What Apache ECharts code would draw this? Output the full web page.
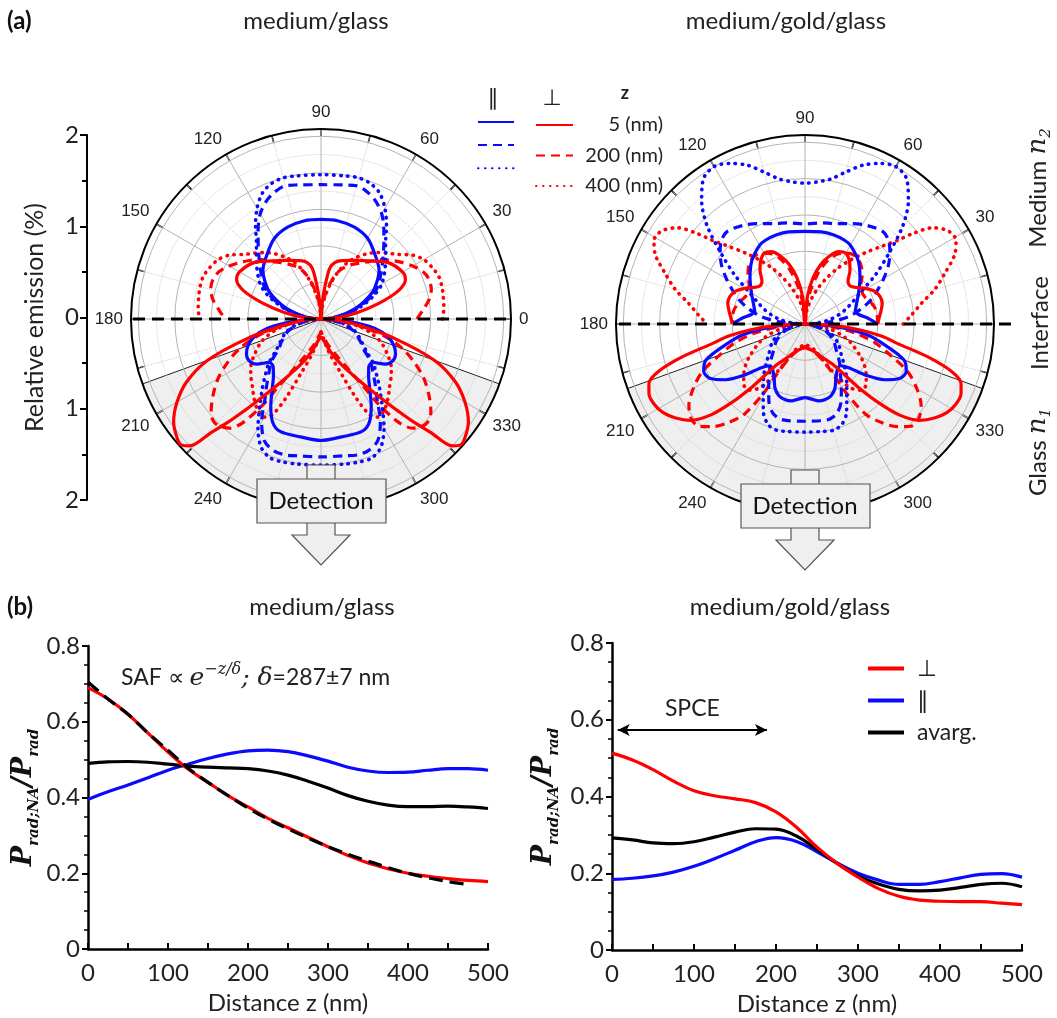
<!DOCTYPE html>
<html><head><meta charset="utf-8">
<script src="https://cdn.jsdelivr.net/npm/echarts@6/dist/echarts.min.js"></script>
<style>html,body{margin:0;padding:0;background:#fff}#c{width:1057px;height:1018px}</style>
</head><body><div id="c"></div><script>
// ---------- (a) polar patterns: [angle (deg), relative emission] ----------
// medium/glass, upper half (angle above interface 0..90), lower half (depression angle 0..90)
const gB5u   = [[0,0],[5,0.12],[10,0.22],[15,0.34],[20,0.46],[25,0.58],[30,0.68],[40,0.83],[50,0.92],[60,1.02],[70,1.07],[80,1.09],[90,1.09]];
const gB200u = [[0,0],[5,0.1],[10,0.23],[15,0.37],[20,0.5],[25,0.62],[30,0.72],[40,0.87],[45,0.96],[50,1.07],[55,1.2],[60,1.33],[65,1.42],[70,1.48],[75,1.51],[80,1.49],[90,1.47]];
const gB400u = [[0,0],[5,0.11],[10,0.24],[15,0.39],[20,0.53],[25,0.66],[30,0.77],[40,0.92],[45,1.0],[50,1.1],[55,1.25],[60,1.4],[65,1.52],[70,1.58],[75,1.6],[80,1.59],[90,1.58]];
const gR5u   = [[0,0],[5,0.18],[10,0.4],[15,0.65],[20,0.9],[25,1.02],[30,1.03],[40,0.96],[50,0.83],[60,0.74],[70,0.68],[76,0.64],[80,0.57],[82,0.45],[84,0.3],[86,0.15],[90,0]];
const gR200u = [[0,1.05],[5,1.12],[10,1.2],[15,1.25],[20,1.26],[25,1.23],[30,1.16],[35,1.08],[40,1.0],[45,0.92],[50,0.82],[55,0.75],[60,0.69],[65,0.63],[70,0.55],[75,0.42],[80,0.28],[85,0.14],[90,0]];
const gR400u = [[0,1.33],[5,1.35],[10,1.36],[15,1.37],[20,1.37],[25,1.34],[30,1.3],[35,1.22],[40,1.1],[45,1.02],[50,0.95],[55,0.87],[60,0.78],[65,0.68],[70,0.55],[75,0.4],[80,0.25],[85,0.12],[90,0]];
const gB5d   = [[0,0],[5,0.3],[10,0.6],[15,0.76],[20,0.85],[25,0.9],[30,0.91],[35,0.86],[40,0.74],[45,0.74],[50,0.81],[55,0.93],[60,1.1],[65,1.25],[70,1.31],[80,1.31],[90,1.33]];
const gB200d = [[0,0],[10,0.2],[20,0.38],[30,0.5],[35,0.56],[40,0.7],[45,0.8],[50,0.92],[55,1.07],[60,1.3],[65,1.47],[70,1.53],[75,1.54],[80,1.52],[90,1.51]];
const gB400d = [[0,0],[10,0.22],[20,0.4],[30,0.52],[35,0.6],[40,0.74],[45,0.86],[50,1.0],[55,1.17],[60,1.38],[65,1.55],[70,1.62],[75,1.62],[80,1.61],[90,1.6]];
const gR5d   = [[0,0],[5,0.2],[10,0.45],[15,0.85],[20,1.32],[25,1.62],[30,1.82],[35,1.97],[40,2.05],[42,2.06],[44,2.0],[46,1.72],[48,1.52],[50,1.32],[52,1.15],[55,0.95],[60,0.72],[65,0.57],[70,0.45],[75,0.35],[80,0.27],[85,0.22],[90,0.2]];
const gR200d = [[0,0],[5,0.15],[10,0.4],[15,0.72],[20,0.95],[25,1.13],[30,1.3],[35,1.44],[40,1.57],[43,1.62],[46,1.62],[50,1.56],[53,1.42],[56,1.12],[58,0.85],[62,0.6],[66,0.46],[70,0.37],[75,0.29],[80,0.22],[85,0.17],[90,0.15]];
const gR400d = [[0,0],[10,0.4],[20,0.68],[30,0.86],[35,0.94],[40,1.0],[45,1.06],[50,1.14],[55,1.21],[60,1.24],[63,1.18],[66,0.95],[70,0.62],[75,0.42],[80,0.28],[85,0.18],[90,0.14]];
// medium/gold/glass
const uB5u   = [[0,0.8],[5,0.7],[10,0.6],[14,0.57],[20,0.6],[30,0.68],[40,0.79],[50,0.91],[60,1.0],[65,1.02],[72,1.03],[80,1.03],[90,1.02]];
const uB200u = [[0,0.05],[5,0.3],[10,0.5],[15,0.64],[20,0.77],[25,0.88],[30,1.0],[35,1.12],[40,1.22],[45,1.3],[50,1.33],[58,1.28],[65,1.22],[74,1.15],[80,1.13],[90,1.1]];
const uB400u = [[0,0],[5,0.15],[10,0.28],[15,0.38],[20,0.48],[25,0.58],[30,0.72],[35,0.95],[40,1.2],[45,1.52],[50,1.77],[55,1.95],[60,2.0],[65,1.95],[70,1.86],[75,1.73],[80,1.62],[85,1.57],[90,1.55]];
const uR5u   = [[0,0.8],[5,0.82],[10,0.85],[15,0.88],[20,0.88],[25,0.85],[30,0.78],[35,0.7],[40,0.65],[45,0.67],[50,0.77],[55,0.85],[60,0.9],[65,0.88],[70,0.8],[75,0.68],[80,0.52],[85,0.3],[90,0]];
const uR200u = [[0,0.8],[5,0.8],[10,0.8],[15,0.78],[20,0.75],[25,0.72],[30,0.72],[35,0.75],[40,0.82],[45,0.88],[50,0.92],[55,0.93],[60,0.9],[65,0.85],[70,0.75],[75,0.6],[80,0.4],[85,0.2],[90,0]];
const uR400u = [[0,1.08],[5,1.18],[10,1.3],[15,1.48],[20,1.64],[25,1.82],[29,1.9],[33,1.88],[37,1.76],[40,1.55],[42,1.38],[45,1.22],[50,1.02],[55,0.85],[60,0.7],[65,0.55],[70,0.42],[75,0.3],[80,0.2],[85,0.1],[90,0]];
const uB5d   = [[0,0.05],[5,0.35],[10,0.7],[15,0.92],[20,1.16],[25,1.23],[30,1.2],[35,1.07],[40,0.88],[45,0.68],[50,0.6],[55,0.62],[60,0.68],[65,0.78],[70,0.84],[75,0.86],[80,0.86],[85,0.83],[90,0.81]];
const uB200d = [[0,0],[10,0.12],[20,0.25],[30,0.36],[40,0.45],[45,0.52],[50,0.6],[55,0.68],[60,0.8],[65,0.94],[70,1.04],[75,1.08],[80,1.08],[90,1.07]];
const uB400d = [[0,0],[10,0.15],[20,0.3],[30,0.42],[40,0.52],[45,0.6],[50,0.7],[55,0.8],[60,0.92],[65,1.08],[70,1.18],[75,1.21],[80,1.2],[90,1.19]];
const uR5d   = [[0,0],[3,0.3],[6,0.6],[9,0.85],[12,1.05],[15,1.4],[18,1.7],[21,1.84],[24,1.88],[28,1.88],[32,1.84],[36,1.76],[40,1.65],[44,1.44],[47,1.18],[50,0.9],[52,0.72],[55,0.55],[60,0.45],[65,0.38],[70,0.33],[75,0.3],[80,0.28],[85,0.26],[90,0.25]];
const uR200d = [[0,0],[5,0.25],[10,0.55],[15,0.8],[20,1.0],[25,1.25],[30,1.42],[35,1.56],[40,1.63],[44,1.62],[48,1.52],[52,1.38],[56,1.2],[59,0.9],[61,0.6],[65,0.42],[70,0.34],[75,0.3],[80,0.28],[85,0.27],[90,0.26]];
const uR400d = [[0,0],[10,0.25],[20,0.5],[30,0.7],[35,0.8],[40,0.88],[45,0.95],[50,0.95],[55,0.85],[60,0.6],[65,0.4],[70,0.3],[80,0.25],[90,0.22]];

// ---------- (b) collection efficiency vs distance ----------
const distZ     = [0,25,50,75,100,125,150,175,200,225,250,275,300,325,350,375,400,425,450,475,500];
const glassPerp = [0.69,0.66,0.62,0.57,0.52,0.475,0.44,0.405,0.375,0.345,0.32,0.295,0.27,0.247,0.227,0.212,0.2,0.192,0.186,0.181,0.178];
const glassPar  = [0.395,0.415,0.433,0.452,0.472,0.488,0.503,0.515,0.523,0.525,0.521,0.51,0.496,0.48,0.47,0.466,0.467,0.472,0.476,0.476,0.472];
const glassAvg  = [0.49,0.494,0.495,0.493,0.488,0.483,0.48,0.478,0.476,0.47,0.459,0.443,0.425,0.405,0.39,0.38,0.376,0.376,0.377,0.375,0.371];
const fitZ      = [0,25,50,75,100,125,150,175,200,225,250,275,300,325,350,375,400,425,450,470];
const glassFit  = [0.705,0.66,0.62,0.57,0.525,0.478,0.44,0.405,0.372,0.343,0.317,0.293,0.27,0.25,0.232,0.215,0.2,0.188,0.178,0.172];
const goldPerp  = [0.513,0.495,0.47,0.44,0.415,0.402,0.394,0.384,0.36,0.32,0.268,0.225,0.19,0.16,0.14,0.13,0.127,0.126,0.126,0.122,0.118];
const goldPar   = [0.184,0.187,0.193,0.203,0.218,0.238,0.26,0.282,0.293,0.283,0.256,0.226,0.2,0.182,0.171,0.171,0.178,0.188,0.197,0.199,0.19];
const goldAvg   = [0.292,0.287,0.279,0.277,0.282,0.294,0.307,0.316,0.315,0.297,0.262,0.225,0.193,0.172,0.158,0.154,0.156,0.163,0.171,0.174,0.165];
const angleTicks = [0,30,60,90,120,150,180,210,240,270,300,330];

// ---------- layout constants ----------
const P = [{cx:321, cy:319, r:190}, {cx:805, cy:324, r:189}];
const RMAX = 2.08;
const RED = '#ff0000', BLUE = '#0a0aff';
const CAL = 'Lato', ARI = 'Liberation Sans', SER = 'DejaVu Serif';

function upper(arr){ const o=[]; arr.forEach(([a,r])=>o.push([r,a])); for(let i=arr.length-2;i>=0;i--){const [a,r]=arr[i]; o.push([r,180-a]);} return o; }
function lower(arr){ const o=[]; arr.forEach(([d,r])=>o.push([r,180+d])); for(let i=arr.length-2;i>=0;i--){const [d,r]=arr[i]; o.push([r,360-d]);} return o; }
const styles = {
  solid: {width:3.2, type:'solid'},
  dashed:{width:3.2, type:[9,6]},
  dotted:{width:3.6, type:[0.5,6.5], cap:'round'}
};
function pser(name, up, dn, pi, color, st){
  const mk = d => ({type:'line', name, coordinateSystem:'polar', polarIndex:pi, data:d, symbol:'none', showSymbol:false, smooth:0.3,
     lineStyle:Object.assign({color}, styles[st]), itemStyle:{color}, z:3, silent:true});
  return [mk(upper(up)), mk(lower(dn))];
}
const series = [].concat(
  pser('r400', gR400u, gR400d, 0, RED, 'dotted'), pser('r200', gR200u, gR200d, 0, RED, 'dashed'),
  pser('b400', gB400u, gB400d, 0, BLUE, 'dotted'), pser('b200', gB200u, gB200d, 0, BLUE, 'dashed'),
  pser('b5', gB5u, gB5d, 0, BLUE, 'solid'), pser('r5', gR5u, gR5d, 0, RED, 'solid'),
  pser('r400', uR400u, uR400d, 1, RED, 'dotted'), pser('r200', uR200u, uR200d, 1, RED, 'dashed'),
  pser('b400', uB400u, uB400d, 1, BLUE, 'dotted'), pser('b200', uB200u, uB200d, 1, BLUE, 'dashed'),
  pser('b5', uB5u, uB5d, 1, BLUE, 'solid'), pser('r5', uR5u, uR5d, 1, RED, 'solid')
);
const zip = (xs, ys) => ys.map((v,i)=>[xs[i], v]);
function lser(name, xi, xs, ys, color, dash){
  return {type:'line', name, xAxisIndex:xi, yAxisIndex:xi, data:zip(xs,ys), symbol:'none', smooth:0.4,
    lineStyle:{color, width:3.2, type: dash ? [14,7] : 'solid'}, itemStyle:{color}, z: dash?5:3};
}
series.push(lser('∥', 1, distZ, glassPar, BLUE), lser('avarg.', 1, distZ, glassAvg, '#000'),
            lser('⊥', 1, distZ, glassPerp, RED), lser('fit', 1, fitZ, glassFit, '#000', true));
const goldBlack = lser('avarg.', 2, distZ, goldAvg, '#000');
goldBlack.markLine = {silent:true, symbol:['arrow','arrow'], symbolSize:[9,12], animation:false,
  lineStyle:{color:'#000', width:2, type:'solid'},
  label:{show:true, position:'middle', formatter:'SPCE', fontSize:23, fontFamily:CAL, color:'#222', distance:10},
  data:[[{coord:[7,0.573]},{coord:[189,0.573]}]]};
series.push(lser('∥', 2, distZ, goldPar, BLUE), goldBlack, lser('⊥', 2, distZ, goldPerp, RED));

function angleAxis(i){
  return {polarIndex:i, type:'value', min:0, max:360, interval:30, startAngle:0, clockwise:false,
    axisLine:{lineStyle:{color:'#000', width:2}},
    axisTick:{inside:true, length:7, lineStyle:{color:'#000', width:1.5}},
    minorTick:{show:true, splitNumber:2, length:7, lineStyle:{color:'#000', width:1.5}},
    axisLabel:{fontSize:17, color:'#222', fontFamily:ARI, margin:8,
      formatter: v => (angleTicks.indexOf(v) < 0 || (i===1 && v===0)) ? '' : String(v)},
    splitLine:{show:true, lineStyle:{color:'#b4b4b4', width:1}},
    minorSplitLine:{show:true, lineStyle:{color:'#cfcfcf', width:1, type:'dotted'}}};
}
function radiusAxis(i){
  return {polarIndex:i, type:'value', min:0, max:RMAX, interval:0.4,
    axisLine:{show:false}, axisTick:{show:false}, axisLabel:{show:false},
    minorTick:{show:false, splitNumber:2},
    splitLine:{show:true, lineStyle:{color:'#b4b4b4', width:1}},
    minorSplitLine:{show:true, lineStyle:{color:'#cfcfcf', width:1, type:'dotted'}}};
}
const numAxisLabel = {fontSize:24, color:'#222', fontFamily:CAL};
const yTitle = {
  P:{fontFamily:SER, fontStyle:'italic', fontWeight:'bold', fontSize:27, color:'#111', verticalAlign:'bottom', padding:[0,0,5,0]},
  s:{fontFamily:SER, fontStyle:'italic', fontWeight:'bold', fontSize:15, color:'#111', verticalAlign:'bottom'}
};

// ---------- graphics (decorations, labels) ----------
const G = [];
P.forEach(p => {
  const d = Math.PI/180;
  G.push({type:'sector', z:-1, silent:true, shape:{cx:p.cx, cy:p.cy, r:p.r, r0:0, startAngle:20*d, endAngle:160*d, clockwise:true},
          style:{fill:'#efefef', stroke:'#222', lineWidth:1}});
  G.push({type:'polygon', z:60, silent:true, shape:{points:[[p.cx-14,p.cy+146],[p.cx+14,p.cy+146],[p.cx+14,p.cy+216],[p.cx+29,p.cy+216],[p.cx,p.cy+246],[p.cx-29,p.cy+216],[p.cx-14,p.cy+216]]},
          style:{fill:'#efefef', stroke:'#555', lineWidth:1.2}});
  G.push({type:'rect', z:61, silent:true, shape:{x:p.cx-64, y:p.cy+160, width:129, height:44}, style:{fill:'#efefef', stroke:'#555', lineWidth:1.2}});
  G.push({type:'text', z:62, silent:true, x:p.cx, y:p.cy+182, style:{text:'Detection', fontSize:24, fontFamily:CAL, fill:'#111', align:'center', verticalAlign:'middle'}});
});
G.push({type:'line', z:50, silent:true, shape:{x1:P[0].cx-188, y1:P[0].cy, x2:P[0].cx+192, y2:P[0].cy}, style:{stroke:'#000', lineWidth:3, lineDash:[12,7]}});
G.push({type:'line', z:50, silent:true, shape:{x1:P[1].cx-186, y1:P[1].cy, x2:1018, y2:P[1].cy}, style:{stroke:'#000', lineWidth:3, lineDash:[12,7]}});
const T = (x,y,text,o) => G.push(Object.assign({type:'text', z:70, silent:true, x, y, style:Object.assign({text, fontSize:24, fontFamily:CAL, fill:'#222', align:'center', verticalAlign:'middle'}, o||{})}));
T(7,21,'(a)',{align:'left', fontWeight:'bold', fill:'#111', fontSize:24});
T(316,21,'medium/glass'); T(786,21,'medium/gold/glass');
T(7,607,'(b)',{align:'left', fontWeight:'bold', fill:'#111', fontSize:24});
T(322,607,'medium/glass'); T(790,607,'medium/gold/glass');
T(493,99,'∥',{fontSize:22, fontFamily:'DejaVu Sans'}); T(552,99,'⊥',{fontSize:22, fontFamily:'DejaVu Sans'});
T(625,93,'z',{fontSize:18, fontWeight:'bold'});
const sideRich = {a:{fontSize:24, fontFamily:CAL, fill:'#222'}, n:{fontSize:26, fontFamily:SER, fontStyle:'italic', fill:'#222'}, s:{fontSize:15, fontFamily:SER, fontStyle:'italic', fill:'#222', verticalAlign:'bottom', lineHeight:32}};
G.push({type:'text', z:70, silent:true, x:1038, y:188, rotation:Math.PI/2, style:{text:'{a|Medium }{n|n}{s|2}', rich:sideRich, align:'center', verticalAlign:'middle'}});
G.push({type:'text', z:70, silent:true, x:1040, y:323, rotation:Math.PI/2, style:{text:'Interface', fontSize:24, fontFamily:CAL, fill:'#222', align:'center', verticalAlign:'middle'}});
G.push({type:'text', z:70, silent:true, x:1038, y:452, rotation:Math.PI/2, style:{text:'{a|Glass }{n|n}{s|1}', rich:sideRich, align:'center', verticalAlign:'middle'}});
G.push({type:'text', z:70, silent:true, x:121, y:678, style:{
  text:'{a|SAF ∝ }{e|e}{p|−z/δ}{e|; δ}{a|=287±7 nm}', align:'left', verticalAlign:'middle',
  rich:{a:{fontSize:23, fontFamily:CAL, fill:'#222', lineHeight:32}, e:{fontSize:25, fontFamily:SER, fontStyle:'italic', fill:'#222', lineHeight:32},
        p:{fontSize:16, fontFamily:SER, fontStyle:'italic', fill:'#222', verticalAlign:'top', lineHeight:32}}}});

const option = {
  animation:false, backgroundColor:'#fff',
  polar: P.map(p => ({center:[p.cx,p.cy], radius:p.r})),
  angleAxis:[angleAxis(0), angleAxis(1)],
  radiusAxis:[radiusAxis(0), radiusAxis(1)],
  grid:[{left:87, top:135, width:1, height:365}, {left:88, top:646, width:400, height:303}, {left:612, top:643, width:410, height:307}],
  xAxis:[
    {gridIndex:0, type:'value', show:false},
    {gridIndex:1, type:'value', min:0, max:500, interval:100, axisLine:{lineStyle:{color:'#000', width:2.5}},
     axisTick:{inside:true, length:6, lineStyle:{color:'#000', width:2}}, minorTick:{show:true, splitNumber:2, length:6, lineStyle:{color:'#000', width:2}},
     splitLine:{show:false}, axisLabel:Object.assign({margin:12}, numAxisLabel),
     name:'Distance z (nm)', nameLocation:'middle', nameGap:42, nameTextStyle:{fontSize:24, fontFamily:CAL, color:'#222'}},
    {gridIndex:2, type:'value', min:0, max:500, interval:100, axisLine:{lineStyle:{color:'#000', width:2.5}},
     axisTick:{inside:true, length:6, lineStyle:{color:'#000', width:2}}, minorTick:{show:true, splitNumber:2, length:6, lineStyle:{color:'#000', width:2}},
     splitLine:{show:false}, axisLabel:Object.assign({margin:12}, numAxisLabel),
     name:'Distance z (nm)', nameLocation:'middle', nameGap:42, nameTextStyle:{fontSize:24, fontFamily:CAL, color:'#222'}}
  ],
  yAxis:[
    {gridIndex:0, type:'value', min:-2, max:2, interval:1, axisLine:{show:true, lineStyle:{color:'#000', width:2}},
     axisTick:{show:true, length:7, lineStyle:{color:'#000', width:2}}, minorTick:{show:true, splitNumber:2, length:5, lineStyle:{color:'#000', width:2}},
     splitLine:{show:false}, axisLabel:Object.assign({margin:8, formatter:v=>String(Math.abs(v))}, numAxisLabel),
     name:'Relative emission (%)', nameLocation:'middle', nameGap:40, nameRotate:90, nameTextStyle:{fontSize:25, fontFamily:CAL, color:'#222'}},
    {gridIndex:1, type:'value', min:0, max:0.8, interval:0.2, axisLine:{show:true, lineStyle:{color:'#000', width:2.5}},
     axisTick:{show:true, length:6, lineStyle:{color:'#000', width:2}}, minorTick:{show:true, splitNumber:4, length:4, lineStyle:{color:'#000', width:1.5}},
     splitLine:{show:false}, axisLabel:Object.assign({margin:8}, numAxisLabel),
     name:'{P|P}{s|rad;NA}{P|/P}{s|rad}', nameLocation:'middle', nameGap:46, nameRotate:90, nameTextStyle:{rich:yTitle}},
    {gridIndex:2, type:'value', min:0, max:0.8, interval:0.2, axisLine:{show:true, lineStyle:{color:'#000', width:2.5}},
     axisTick:{show:true, length:6, lineStyle:{color:'#000', width:2}}, minorTick:{show:true, splitNumber:4, length:4, lineStyle:{color:'#000', width:1.5}},
     splitLine:{show:false}, axisLabel:Object.assign({margin:8}, numAxisLabel),
     name:'{P|P}{s|rad;NA}{P|/P}{s|rad}', nameLocation:'middle', nameGap:50, nameRotate:90, nameTextStyle:{rich:yTitle}}
  ],
  legend:[
    {data:['b5','b200','b400'], left:472, top:110, orient:'vertical', itemWidth:36, itemHeight:14, itemGap:10.5, selectedMode:false,
     itemStyle:{opacity:0}, formatter:()=>'', textStyle:{fontSize:18}},
    {data:['r5','r200','r400'], left:530, top:110, orient:'vertical', itemWidth:37, itemHeight:14, itemGap:10.5, selectedMode:false,
     itemStyle:{opacity:0},
     formatter:n=>'{t|'+({r5:'5 (nm)', r200:'200 (nm)', r400:'400 (nm)'})[n]+'}',
     textStyle:{fontSize:18, rich:{t:{width:85, align:'right', fontSize:20, fontFamily:CAL, color:'#222'}}}},
    {data:['⊥','∥','avarg.'], left:863, top:652, orient:'vertical', icon:'rect', itemWidth:36, itemHeight:4, itemGap:9, selectedMode:false,
     textStyle:{fontSize:23, fontFamily:CAL, color:'#222', padding:[0,0,0,8]}}
  ],
  graphic:{elements:G},
  series
};
const chart = echarts.init(document.getElementById('c'), null, {renderer:'canvas'});
chart.setOption(option);
</script></body></html>
